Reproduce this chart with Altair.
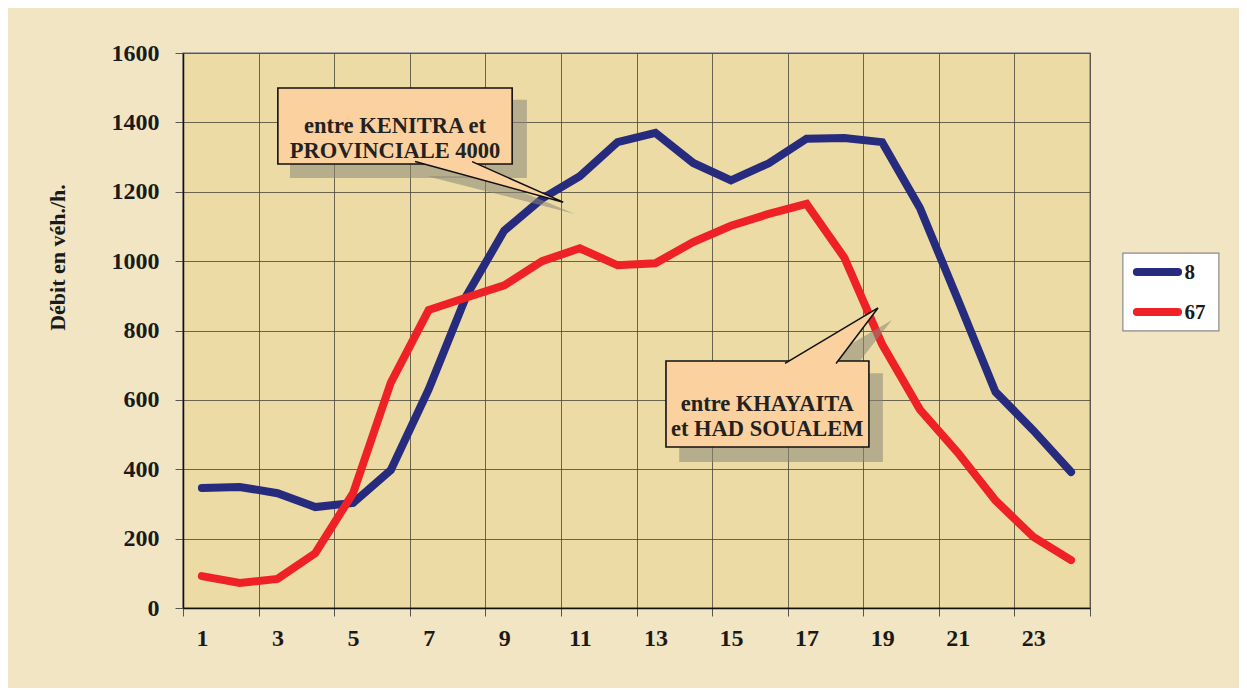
import altair as alt
import pandas as pd

hours = list(range(1, 25))
series_names = ["8", "67"]
flow_8 = [346, 349, 331, 291, 303, 398, 630, 900, 1088, 1180, 1245, 1343, 1370, 1283, 1233, 1282, 1353, 1355, 1343, 1153, 890, 623, 512, 392]
flow_67 = [92, 72, 84, 158, 331, 650, 859, 895, 930, 1000, 1037, 988, 994, 1055, 1102, 1136, 1165, 1010, 760, 572, 448, 310, 205, 138]
colors = ["#262B7E", "#EE2226"]

y_ticks = list(range(0, 1601, 200))
x_grid = [h - 0.5 for h in hours] + [24.5]

FONT = "Liberation Serif"
INK = "#1a1a1a"

rows = []
for name, vals in zip(series_names, [flow_8, flow_67]):
    for h, v in zip(hours, vals):
        rows.append({"heure": h, "debit": v, "serie": name})
df = pd.DataFrame(rows)

x_scale = alt.Scale(domain=[0.5, 24.5], nice=False, zero=False)
y_scale = alt.Scale(domain=[0, 1600], nice=False)
c_scale = alt.Scale(domain=series_names, range=colors)

x_axis = alt.Axis(
    values=x_grid, grid=True, title=None,
    labelExpr="(datum.value - 0.5) % 2 == 0 && datum.value < 24 ? format(datum.value + 0.5, 'd') : ''",
    labelOffset=18.9, labelFlush=False, labelOverlap=False, labelBound=False,
    labelFont=FONT, labelFontWeight="bold", labelFontSize=24, labelColor=INK,
    labelPadding=10, tickSize=8, tickColor="#555", domainColor="#111", domainWidth=1.5,
)
y_axis = alt.Axis(
    values=y_ticks, grid=True, format="d", title="Débit en véh./h.",
    labelFont=FONT, labelFontWeight="bold", labelFontSize=24, labelColor=INK,
    labelPadding=16, tickSize=8, tickColor="#555", domainColor="#111", domainWidth=1.5,
    titleFont=FONT, titleFontWeight="bold", titleFontSize=22, titleColor=INK,
    titleAngle=270, titleX=-126, titleY=204, titleAlign="center", titleBaseline="middle",
)

lines = alt.Chart(df).mark_line(strokeWidth=8, strokeCap="round", strokeJoin="miter").encode(
    x=alt.X("heure:Q", scale=x_scale, axis=x_axis),
    y=alt.Y("debit:Q", scale=y_scale, axis=y_axis),
    color=alt.Color("serie:N", scale=c_scale, legend=None),
    detail="serie:N",
    order="heure:Q",
)

# callout annotations (in data coordinates)
box_x = [3.01, 13.28]
box_x2 = [9.21, 18.65]
box_y = [1499, 712]
box_y2 = [1280, 464]
shadow_x = [3.33, 13.63]
shadow_x2 = [9.60, 19.02]
shadow_y = [1465, 677]
shadow_y2 = [1240, 421]
callout_text = [["entre KENITRA et", "PROVINCIALE 4000"], ["entre KHAYAITA", "et HAD SOUALEM"]]
text_x = [6.11, 15.96]
text_y = [1390, 588]

boxes = pd.DataFrame({"x": box_x, "x2": box_x2, "y": box_y, "y2": box_y2})
shadows = pd.DataFrame({"x": shadow_x, "x2": shadow_x2, "y": shadow_y, "y2": shadow_y2})
texts = pd.DataFrame({"x": text_x, "y": text_y, "t": callout_text})

# pointer triangles: base A, base B, tip T
ptr_a = [(6.64, 1287), (16.43, 705)]
ptr_b = [(8.15, 1287), (17.78, 705)]
ptr_t = [(10.56, 1170), (18.89, 865)]
sh_a = [(6.96, 1245), (16.77, 672)]
sh_b = [(8.47, 1245), (18.12, 672)]
sh_t = [(10.87, 1136), (19.26, 830)]


def tri_area(a, b, t, k):
    yab = a[1] + (t[1] - a[1]) * (b[0] - a[0]) / (t[0] - a[0])
    return [
        {"k": k, "x": a[0], "y": a[1], "y2": a[1]},
        {"k": k, "x": b[0], "y": b[1], "y2": yab},
        {"k": k, "x": t[0], "y": t[1], "y2": t[1]},
    ]


def tri_outline(a, b, t, k):
    return [
        {"k": k, "o": 0, "x": a[0], "y": a[1]},
        {"k": k, "o": 1, "x": t[0], "y": t[1]},
        {"k": k, "o": 2, "x": b[0], "y": b[1]},
    ]


ptr_fill = pd.DataFrame(sum([tri_area(a, b, t, i) for i, (a, b, t) in enumerate(zip(ptr_a, ptr_b, ptr_t))], []))
sh_fill = pd.DataFrame(sum([tri_area(a, b, t, i) for i, (a, b, t) in enumerate(zip(sh_a, sh_b, sh_t))], []))
ptr_line = pd.DataFrame(sum([tri_outline(a, b, t, i) for i, (a, b, t) in enumerate(zip(ptr_a, ptr_b, ptr_t))], []))

SH = "#8a8778"
PEACH = "#FBD19F"

shadow_rects = alt.Chart(shadows).mark_rect(fill=SH, opacity=0.55).encode(
    x=alt.X("x:Q", scale=x_scale), x2="x2:Q", y=alt.Y("y:Q", scale=y_scale), y2="y2:Q")
shadow_tris = alt.Chart(sh_fill).mark_area(fill=SH, opacity=0.55).encode(
    x=alt.X("x:Q", scale=x_scale), y=alt.Y("y:Q", scale=y_scale), y2="y2:Q", detail="k:N")
box_rects = alt.Chart(boxes).mark_rect(fill=PEACH, stroke="#111", strokeWidth=1.6).encode(
    x=alt.X("x:Q", scale=x_scale), x2="x2:Q", y=alt.Y("y:Q", scale=y_scale), y2="y2:Q")
ptr_tris = alt.Chart(ptr_fill).mark_area(fill=PEACH, opacity=1).encode(
    x=alt.X("x:Q", scale=x_scale), y=alt.Y("y:Q", scale=y_scale), y2="y2:Q", detail="k:N")
ptr_lines = alt.Chart(ptr_line).mark_line(color="#111", strokeWidth=1.5).encode(
    x=alt.X("x:Q", scale=x_scale), y=alt.Y("y:Q", scale=y_scale), detail="k:N", order="o:Q")
box_texts = alt.Chart(texts).mark_text(
    font=FONT, fontWeight="bold", fontSize=22.5, color="#222", align="center",
    baseline="middle", lineHeight=25,
).encode(x=alt.X("x:Q", scale=x_scale), y=alt.Y("y:Q", scale=y_scale), text="t")

# legend drawn as marks, placed in data coordinates right of the plot
legend_box = pd.DataFrame({"x": [25.37], "x2": [27.91], "y": [1023], "y2": [799]})
legend_rows = pd.DataFrame({
    "serie": series_names,
    "x": [25.74, 25.74], "x2": [26.83, 26.83], "tx": [27.0, 27.0],
    "y": [969, 853],
})

leg_rect = alt.Chart(legend_box).mark_rect(fill="white", stroke="#8a8a8a", strokeWidth=1.2).encode(
    x=alt.X("x:Q", scale=x_scale), x2="x2:Q", y=alt.Y("y:Q", scale=y_scale), y2="y2:Q")
leg_lines = alt.Chart(legend_rows).mark_rule(strokeWidth=8, strokeCap="round").encode(
    x=alt.X("x:Q", scale=x_scale), x2="x2:Q", y=alt.Y("y:Q", scale=y_scale),
    color=alt.Color("serie:N", scale=c_scale, legend=None))
leg_text = alt.Chart(legend_rows).mark_text(
    font=FONT, fontWeight="bold", fontSize=21, color=INK, align="left", baseline="middle", dy=1,
).encode(x=alt.X("tx:Q", scale=x_scale), y=alt.Y("y:Q", scale=y_scale), text="serie:N")

chart = alt.layer(
    lines, shadow_rects, shadow_tris, box_rects, ptr_tris, ptr_lines, box_texts,
    leg_rect, leg_lines, leg_text,
).properties(
    width=907, height=555,
    autosize=alt.AutoSizeParams(type="none"),
    padding={"left": 175, "top": 45, "right": 149, "bottom": 80},
    background="#F2E5C4",
).configure_view(
    fill="#ECDBA4", stroke="#8c8c96", strokeWidth=1.5,
).configure_axis(
    gridColor="#4a463a", gridOpacity=0.8, gridWidth=1,
)

chart.save("out.html", embed_options={"renderer": "svg", "actions": False})
